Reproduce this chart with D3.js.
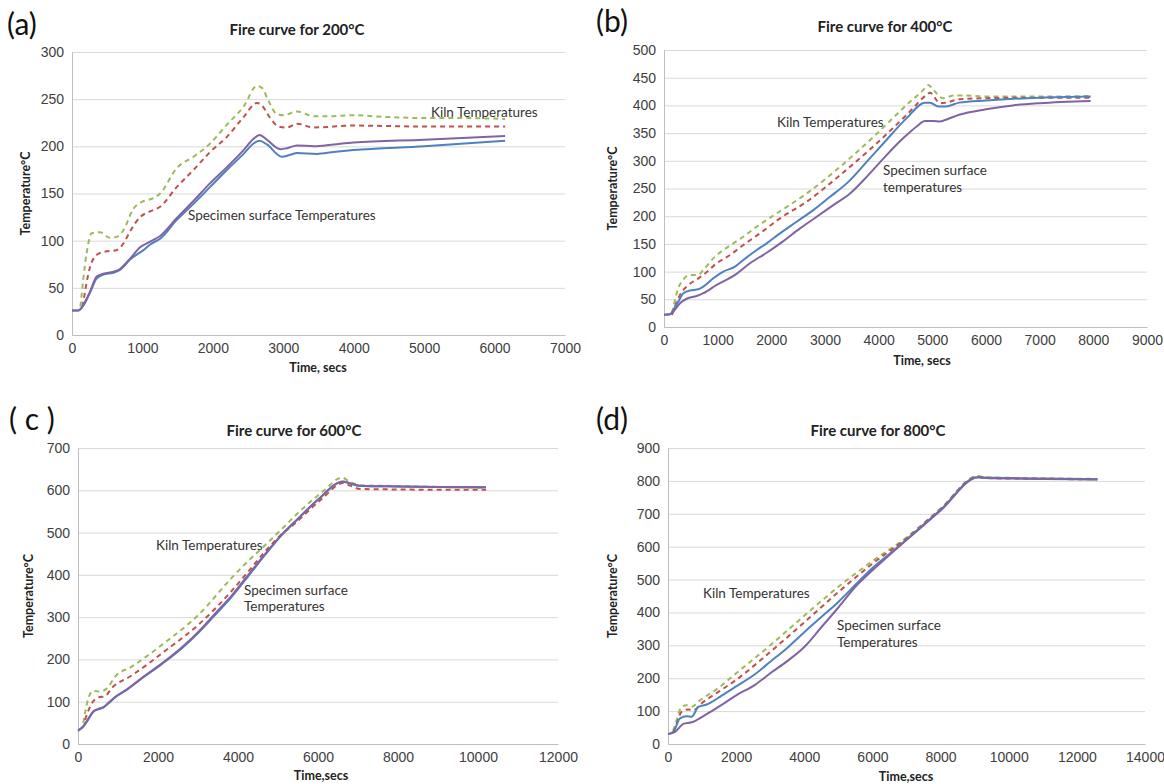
<!DOCTYPE html>
<html>
<head>
<meta charset="utf-8">
<script src="https://cdn.jsdelivr.net/npm/d3@7"></script>
<style>
  body { margin: 0; background: #fff; }
  svg { font-family: Lato, "Open Sans", sans-serif; }
  .grid line { stroke: #d9d9d9; }
  .tick text { fill: #404040; font-size: 14px; }
</style>
</head>
<body>
<svg id="chart" width="1164" height="784"></svg>
<script>
// data: [time secs, temperature °C]

// (a) 200°C
const aKilnGreen = [[120,30],[208,87],[280,108],[398,109],[540,103],[635,104],[730,111],[872,134],[990,141],[1156,145],[1251,150],[1488,177],[1725,189],[1962,203],[2199,223],[2436,242],[2626,264],[2697,262],[2791,248],[2910,234],[3005,233],[3194,237],[3431,232],[3716,232],[3953,233],[4500,231],[5000,230],[5500,230],[6150,229]];
const aKilnRed = [[150,30],[256,72],[351,85],[445,88],[635,90],[730,97],[825,110],[967,125],[1109,131],[1251,136],[1488,157],[1725,175],[1962,194],[2199,210],[2436,231],[2626,246],[2673,245],[2815,230],[2934,221],[3052,220],[3194,224],[3431,220],[4000,222],[5000,221],[6150,221]];
const aSpecPurple = [[0,26],[90,26],[161,32],[256,46],[351,62],[445,65],[588,67],[682,70],[825,81],[967,93],[1109,99],[1251,105],[1488,124],[1725,142],[1962,161],[2199,178],[2436,196],[2578,208],[2663,212],[2767,207],[2957,197],[3052,198],[3194,201],[3431,200],[3716,202],[3999,204],[5000,207],[6150,211]];
const aSpecBlue = [[0,26],[90,26],[161,31],[256,45],[351,60],[445,64],[588,66],[682,69],[825,80],[1014,90],[1109,96],[1251,102],[1488,122],[1725,139],[1962,157],[2199,175],[2436,192],[2578,203],[2663,206],[2767,202],[2981,189],[3100,191],[3194,193],[3479,192],[3716,194],[3999,196],[5000,200],[6150,206]];

// (b) 400°C
const bKilnGreen = [[150,25],[267,70],[360,86],[484,94],[640,94],[733,103],[950,127],[1106,139],[1292,151],[1478,163],[1727,181],[2099,205],[2658,241],[3280,289],[3901,343],[4522,401],[4832,428],[4925,437],[5019,428],[5200,413],[5400,418],[5600,418],[6000,416],[7000,416],[7950,417]];
const bKilnRed = [[150,22],[298,58],[422,73],[609,86],[733,94],[981,115],[1230,130],[1478,148],[1789,169],[2161,196],[2658,226],[3280,274],[3901,326],[4522,383],[4894,419],[4957,423],[5143,404],[5250,405],[5500,411],[6000,413],[7000,414],[7950,414]];
const bSpecBlue = [[0,22],[112,23],[174,31],[267,46],[360,61],[484,66],[640,68],[733,73],[919,88],[1106,100],[1323,109],[1478,121],[1727,139],[1913,151],[2161,169],[2472,190],[2783,211],[3093,235],[3435,262],[3776,298],[4149,338],[4522,377],[4863,405],[4957,405],[5112,398],[5250,398],[5500,405],[6000,409],[7000,414],[7950,416]];
const bSpecPurple = [[0,22],[112,23],[174,28],[298,43],[422,51],[609,56],[733,61],[981,76],[1323,94],[1602,115],[1913,134],[2224,155],[2534,178],[2845,199],[3155,220],[3466,241],[3776,271],[4087,304],[4460,341],[4708,362],[4863,372],[5019,372],[5143,371],[5300,376],[5500,383],[6000,393],[6500,400],[7000,404],[7950,408]];

// (c) 600°C
const cKilnGreen = [[133,49],[258,108],[383,126],[508,124],[633,126],[758,135],[925,159],[1342,183],[2175,240],[3008,305],[3842,393],[4258,433],[4675,470],[5092,508],[5508,547],[6133,598],[6600,630],[6800,620],[7050,612],[8000,610],[9000,608],[10200,606]];
const cKilnRed = [[175,57],[342,96],[508,110],[675,113],[842,132],[1342,162],[2175,220],[3008,282],[3842,362],[4258,408],[4675,455],[5092,496],[5400,520],[6100,580],[6625,617],[6800,611],[7050,603],[8000,602],[9000,601],[10200,601]];
const cSpecBlue = [[0,31],[133,41],[258,58],[383,76],[508,82],[633,86],[758,96],[925,110],[1217,128],[1592,155],[2092,189],[2592,226],[3008,263],[3425,305],[3842,348],[4258,397],[4675,447],[5092,494],[5508,533],[6008,578],[6625,620],[6800,616],[7050,610],[8000,609],[9000,608],[10200,607]];
const cSpecPurple = [[0,32],[133,42],[258,60],[383,77],[508,83],[633,87],[758,97],[925,111],[1217,129],[1592,156],[2092,190],[2592,228],[3008,265],[3425,308],[3842,351],[4258,400],[4675,449],[5092,495],[5508,534],[6008,579],[6625,621],[6800,617],[7050,611],[8000,609],[9000,608],[10200,607]];

// (d) 800°C
const dKilnGreen = [[150,40],[225,63],[400,113],[548,118],[695,113],[890,129],[1500,172],[2000,215],[3000,300],[4000,390],[5000,478],[6000,556],[7000,628],[8000,716],[9100,815],[9300,811],[11000,808],[12600,806]];
const dKilnRed = [[150,35],[225,53],[400,98],[597,105],[750,103],[988,124],[1500,160],[2000,195],[3000,280],[4000,370],[5000,462],[6000,548],[7000,625],[8000,714],[9100,813],[9300,809],[11000,806],[12600,805]];
const dSpecBlue = [[0,30],[150,36],[352,78],[548,84],[695,83],[890,113],[1135,120],[1575,147],[2000,175],[2550,212],[3000,250],[3500,292],[4000,340],[4500,386],[5000,432],[5500,484],[6000,535],[6500,578],[7000,622],[8000,712],[9100,812],[9300,810],[11000,807],[12600,805]];
const dSpecPurple = [[0,30],[205,37],[450,61],[695,66],[1086,88],[1575,119],[2000,148],[2554,180],[3000,215],[3500,252],[4000,295],[4500,355],[5000,415],[5500,478],[6000,528],[6500,575],[7000,620],[8000,710],[9100,810],[9300,809],[11000,806],[12600,804]];

const green = '#9bbb59', red = '#c0504d', blue = '#4f81bd', purple = '#8064a2';

const panels = [
  { letter: '(a)', lx: 7, ly: 35, title: 'Fire curve for 200°C', tx: 297, ty: 35,
    left: 72, right: 565, top: 52, bottom: 335, xmax: 7000, xstep: 1000, ymax: 300, ystep: 50,
    xlabel: 'Time, secs', xlx: 318, xly: 372, ylx: 30,
    series: [[aKilnGreen, green, true], [aKilnRed, red, true], [aSpecBlue, blue, false], [aSpecPurple, purple, false]],
    notes: [['Kiln Temperatures', 431, 117], ['Specimen surface Temperatures', 188, 220]] },
  { letter: '(b)', lx: 596, ly: 32, title: 'Fire curve for 400°C', tx: 885, ty: 32,
    left: 664, right: 1147, top: 50, bottom: 327, xmax: 9000, xstep: 1000, ymax: 500, ystep: 50,
    xlabel: 'Time, secs', xlx: 922, xly: 365, ylx: 617,
    series: [[bKilnGreen, green, true], [bKilnRed, red, true], [bSpecBlue, blue, false], [bSpecPurple, purple, false]],
    notes: [['Kiln Temperatures', 777, 127], ['Specimen surface', 883, 175], ['temperatures', 883, 192]] },
  { letter: '( c )', lx: 9, ly: 430, title: 'Fire curve for 600°C', tx: 294, ty: 436,
    left: 78, right: 558, top: 448, bottom: 744, xmax: 12000, xstep: 2000, ymax: 700, ystep: 100,
    xlabel: 'Time,secs', xlx: 321, xly: 780, ylx: 33,
    series: [[cKilnGreen, green, true], [cKilnRed, red, true], [cSpecBlue, blue, false], [cSpecPurple, purple, false]],
    notes: [['Kiln Temperatures', 156, 550], ['Specimen surface', 244, 595], ['Temperatures', 244, 611]] },
  { letter: '(d)', lx: 596, ly: 430, title: 'Fire curve for 800°C', tx: 878, ty: 436,
    left: 668, right: 1145, top: 448, bottom: 744, xmax: 14000, xstep: 2000, ymax: 900, ystep: 100,
    xlabel: 'Time,secs', xlx: 906, xly: 781, ylx: 617,
    series: [[dKilnGreen, green, true], [dKilnRed, red, true], [dSpecBlue, blue, false], [dSpecPurple, purple, false]],
    notes: [['Kiln Temperatures', 703, 598], ['Specimen surface', 837, 630], ['Temperatures', 837, 647]] }
];

const svg = d3.select('#chart');

panels.forEach(p => {
  let g = svg.append('g');
  let x = d3.scaleLinear().domain([0, p.xmax]).range([p.left, p.right]);
  let y = d3.scaleLinear().domain([0, p.ymax]).range([p.bottom, p.top]);

  // horizontal gridlines
  g.append('g')
    .attr('class', 'grid')
    .attr('transform', `translate(${p.left},0)`)
    .call(d3.axisLeft(y).ticks(p.ymax / p.ystep).tickSize(-(p.right - p.left)).tickFormat(''))
    .call(a => a.select('.domain').remove());

  // y axis
  g.append('g')
    .attr('transform', `translate(${p.left},0)`)
    .call(d3.axisLeft(y).ticks(p.ymax / p.ystep).tickSize(0).tickPadding(8))
    .call(a => a.select('.domain').attr('stroke', '#bfbfbf'));

  // x axis
  g.append('g')
    .attr('transform', `translate(0,${p.bottom})`)
    .call(d3.axisBottom(x).tickValues(d3.range(0, p.xmax + 1, p.xstep)).tickSize(0).tickPadding(8).tickFormat(d3.format('d')))
    .call(a => a.select('.domain').attr('stroke', '#bfbfbf'));

  let line = d3.line()
    .x(d => x(d[0]))
    .y(d => y(d[1]))
    .curve(d3.curveMonotoneX);

  p.series.forEach(([data, color, dashed]) => {
    g.append('path')
      .datum(data)
      .attr('fill', 'none')
      .attr('stroke', color)
      .attr('stroke-width', 2)
      .attr('stroke-dasharray', dashed ? '5,4' : null)
      .attr('d', line);
  });

  g.append('text')
    .attr('x', p.lx).attr('y', p.ly)
    .attr('font-size', 30).attr('fill', '#111')
    .text(p.letter);

  g.append('text')
    .attr('x', p.tx).attr('y', p.ty)
    .attr('text-anchor', 'middle')
    .attr('font-size', 15).attr('font-weight', 'bold').attr('fill', '#222')
    .text(p.title);

  g.append('text')
    .attr('x', p.xlx).attr('y', p.xly)
    .attr('text-anchor', 'middle')
    .attr('font-size', 12.5).attr('font-weight', 'bold').attr('fill', '#222')
    .text(p.xlabel);

  g.append('text')
    .attr('transform', `translate(${p.ylx},${(p.top + p.bottom) / 2}) rotate(-90)`)
    .attr('text-anchor', 'middle')
    .attr('font-size', 12.5).attr('font-weight', 'bold').attr('fill', '#222')
    .text('Temperature°C');

  p.notes.forEach(([txt, nx, ny]) => {
    g.append('text')
      .attr('x', nx).attr('y', ny)
      .attr('font-size', 13.5).attr('fill', '#333')
      .text(txt);
  });
});
</script>
</body>
</html>
